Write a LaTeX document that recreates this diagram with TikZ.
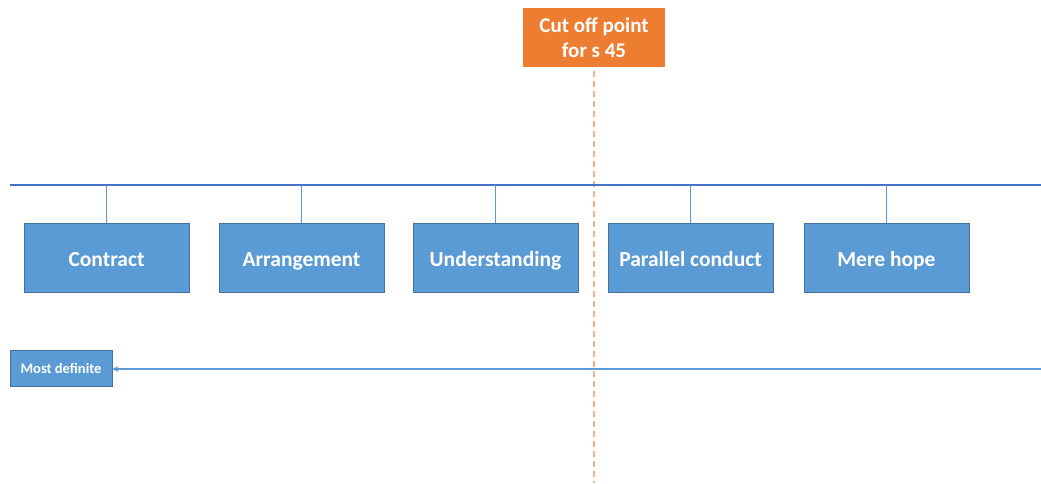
\documentclass[tikz,border=0pt]{standalone}
\usepackage{fontspec}
\setmainfont{Carlito}
\usetikzlibrary{arrows.meta}
\definecolor{boxblue}{HTML}{5B9BD5}
\definecolor{boxedge}{HTML}{41719C}
\definecolor{lineblue}{HTML}{4472C4}
\definecolor{orng}{HTML}{ED7D31}
\definecolor{lorng}{HTML}{F4B183}
\tikzset{
  cat/.style={draw=boxedge, line width=0.8pt, fill=boxblue, text=white, minimum width=165pt, minimum height=69pt, inner sep=0pt, text height=19pt, text depth=2pt, font=\fontsize{21.5}{23}\selectfont\bfseries},
  small/.style={draw=boxedge, line width=0.8pt, fill=boxblue, text=white, minimum width=102pt, minimum height=36pt, inner sep=0pt, text height=12pt, text depth=2pt, font=\fontsize{14.5}{16}\selectfont\bfseries},
  cut/.style={fill=orng, text=white, minimum width=142pt, minimum height=59pt, inner sep=0pt, align=center, font=\fontsize{21}{26}\selectfont\bfseries},
  stem/.style={draw=boxblue, line width=0.8pt},
}
\begin{document}
\begin{tikzpicture}[x=1pt,y=-1pt]
\useasboundingbox (0,0) rectangle (1041,483);
\node[cut] (cut) at (594,37.5) {\raisebox{-1pt}{Cut off point}\\for s 45};
\coordinate (cutend) at (594,483);
\draw[lorng, line width=1.2pt, dash pattern=on 6pt off 4pt] (cut.south) ++(0,4) -- (cutend);
\coordinate (hl) at (10,185);
\coordinate (hr) at (1041,185);
\draw[lineblue, line width=2pt] (hl) -- (hr);
\node[cat] (c1) at (106.5,257.5) {Contract};
\node[cat] (c2) at (301.5,257.5) {Arrangement};
\node[cat] (c3) at (495.5,257.5) {Understanding};
\node[cat] (c4) at (690.5,257.5) {Parallel conduct};
\node[cat] (c5) at (886.5,257.5) {Mere hope};
\foreach \n in {c1,c2,c3,c4,c5}{
  \draw[stem] (\n.north) -- (\n.north |- hl);
}
\node[small] (md) at (61,368) {Most definite};
\coordinate (ar) at (1041,369);
\draw[boxblue, line width=2pt, -{Stealth[length=6pt,width=6pt]}] (ar) -- (md.east |- ar);
\end{tikzpicture}
\end{document}
